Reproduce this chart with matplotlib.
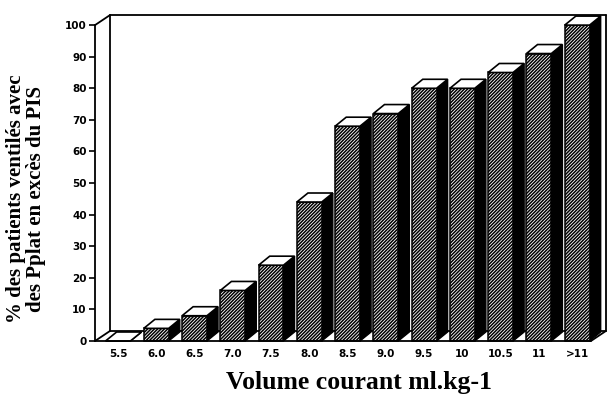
import matplotlib.pyplot as plt
from matplotlib.patches import Polygon, Rectangle

# % of patients with Pplat above the PIS, by tidal volume class
categories = ['5.5', '6.0', '6.5', '7.0', '7.5', '8.0', '8.5', '9.0', '9.5', '10', '10.5', '11', '>11']
values = [0, 4, 8, 16, 24, 44, 68, 72, 80, 80, 85, 91, 100]
yticks = [0, 10, 20, 30, 40, 50, 60, 70, 80, 90, 100]

plt.rcParams['hatch.linewidth'] = 1.1

fig = plt.figure(figsize=(6.08, 4.03), dpi=100)
ax = fig.add_axes([95 / 608, 62 / 403, 512 / 608, 326 / 403])
x_left, x_right = -0.6, 12.78
ax.set_xlim(x_left, x_right)
ax.set_ylim(0, 103.2)
for s in ax.spines.values():
    s.set_visible(False)

# 3d look of the bars
w = 0.65
dx, dy = 0.29, 2.85
# back wall offset
wx, wy = 0.39, 3.16
rb = x_right - 0.03

lk = dict(color='black', lw=1.3, clip_on=False, solid_capstyle='round')
ax.plot([x_left + wx, rb], [wy, wy], zorder=1, **lk)
ax.plot([x_left + wx, x_left + wx], [wy, 100 + wy], zorder=1, **lk)
ax.plot([x_left, x_left + wx], [0, wy], zorder=1, **lk)
ax.plot([x_left, x_left + wx], [100, 100 + wy], zorder=1, **lk)
ax.plot([x_left + wx, rb], [100 + wy, 100 + wy], zorder=1, **lk)
ax.plot([rb, rb], [wy, 100 + wy], zorder=1, **lk)

for i, v in enumerate(values):
    x0 = i - w / 2
    x1 = i + w / 2
    side = Polygon([(x1, 0), (x1 + dx, dy), (x1 + dx, v + dy), (x1, v)],
                   facecolor='black', edgecolor='black', lw=1, zorder=3, clip_on=False)
    front = Rectangle((x0, 0), w, v, facecolor='white', edgecolor='black',
                      hatch='//////////', lw=1.1, zorder=4, clip_on=False)
    top = Polygon([(x0, v), (x1, v), (x1 + dx, v + dy), (x0 + dx, v + dy)],
                  facecolor='white', edgecolor='black', lw=1.2, zorder=5, clip_on=False)
    ax.add_patch(side)
    ax.add_patch(front)
    ax.add_patch(top)

# front axis lines
ax.plot([x_left, x_left], [0, 100], zorder=6, **lk)
ax.plot([x_left, rb - wx], [0, 0], zorder=6, **lk)
ax.plot([rb - wx, rb], [0, wy], zorder=6, **lk)

ax.set_yticks(yticks)
ax.set_yticklabels([str(t) for t in yticks], fontsize=7.5, fontweight='bold')
ax.tick_params(axis='y', length=4, width=1.2, direction='out', pad=2)
ax.set_xticks(range(len(categories)))
ax.set_xticklabels(categories, fontsize=7.5, fontweight='bold')
ax.tick_params(axis='x', length=0, pad=6)

fig.text(26 / 608, 1 - 199 / 403, '% des patients ventilés avec\ndes Pplat en excès du PIS',
         rotation=90, ha='center', va='center', fontsize=15, fontweight='bold',
         family='Liberation Serif', linespacing=1.0)
fig.text(359 / 608, 1 - 383 / 403, 'Volume courant ml.kg-1', ha='center', va='center',
         fontsize=18.5, fontweight='bold', family='Liberation Serif')

fig.savefig('out.png', dpi=100)
